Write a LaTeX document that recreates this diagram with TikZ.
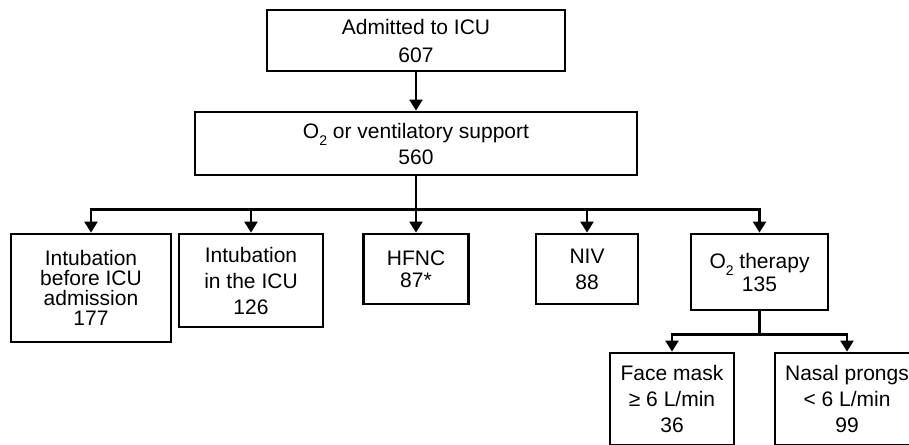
\documentclass[tikz,border=0pt]{standalone}
\usepackage{fontspec}
\setmainfont{Liberation Sans}
\usetikzlibrary{arrows.meta}
\newcommand{\lowidx}[1]{\raisebox{-7pt}{\fontsize{14}{14}\selectfont #1}}

\begin{document}
\begin{tikzpicture}[x=1pt,y=-1pt,->,>={Triangle[width=13pt,length=11pt]},
                    line width=2.3pt]
   \tikzstyle{block}=[draw=black,line width=2.8pt,align=center,inner sep=0pt,
                      font=\fontsize{21}{26}\selectfont]

   \clip (0,0) rectangle (909,444);
   \useasboundingbox (0,0) rectangle (909,444);

   \node[block,minimum width=298,minimum height=61]  (A) at (416,40.5)  {Admitted to ICU\\[2pt]607};
   \node[block,minimum width=442,minimum height=63]  (S) at (416,143.5) {O\lowidx{2} or ventilatory support\\560};
   \node[block,minimum width=160,minimum height=108,
         font=\fontsize{21}{20}\selectfont]          (P) at (91,288)    {Intubation\\before ICU\\admission\\177};
   \node[block,minimum width=144,minimum height=93]  (I) at (251,280.5) {Intubation\\in the ICU\\126};
   \node[block,minimum width=105,minimum height=70,
         font=\fontsize{21}{22}\selectfont]          (H) at (416,269)   {HFNC\\87*};
   \node[block,minimum width=102,minimum height=70]  (N) at (587,269)   {NIV\\88};
   \node[block,minimum width=137,minimum height=76,
         font=\fontsize{21}{23}\selectfont]          (O) at (759.5,272) {O\lowidx{2} therapy\\135};
   \node[block,minimum width=124,minimum height=92]  (F) at (672,399)   {Face mask\\≥ 6 L/min\\36};
   \node[block,minimum width=144,minimum height=92]  (L) at (847,399)   {Nasal prongs\\< 6 L/min\\99};

   \draw (A) -- (S);
   \foreach \n in {P,I,H,N,O}
      \draw (S.south) -- ++(0,33) -| (\n.north);
   \foreach \n in {F,L}
      \draw (O.south) -- ++(0,23) -| (\n.north);
\end{tikzpicture}
\end{document}
